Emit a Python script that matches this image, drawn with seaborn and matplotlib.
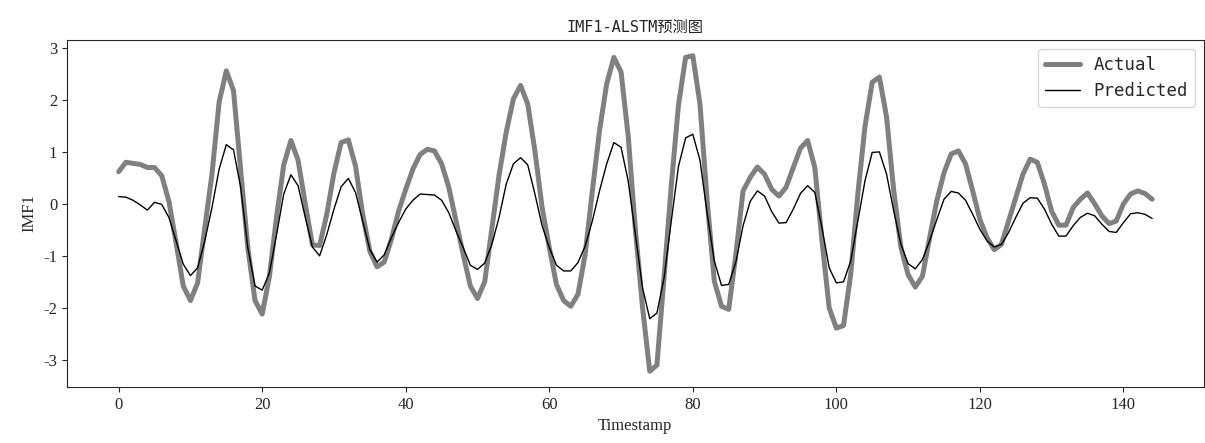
import numpy as np
import pandas as pd
import seaborn as sns
import matplotlib.pyplot as plt

# values (timestamps 0..144)
actual = [
	0.62, 0.80, 0.78, 0.76, 0.70, 0.70, 0.54, 0.05, -0.75, -1.58,
	-1.86, -1.52, -0.46, 0.57, 1.96, 2.56, 2.18, 0.65, -0.85, -1.86,
	-2.12, -1.40, -0.25, 0.75, 1.22, 0.84, 0.00, -0.79, -0.80, -0.20,
	0.60, 1.18, 1.23, 0.73, -0.20, -0.91, -1.21, -1.12, -0.68, -0.14,
	0.28, 0.67, 0.95, 1.05, 1.02, 0.77, 0.32, -0.33, -0.97, -1.58,
	-1.82, -1.50, -0.47, 0.55, 1.38, 2.02, 2.28, 1.92, 1.02, -0.07,
	-0.84, -1.55, -1.86, -1.97, -1.74, -0.97, 0.25, 1.41, 2.31, 2.82,
	2.54, 1.30, -0.50, -2.00, -3.22, -3.10, -1.40, 0.35, 1.90, 2.82,
	2.85, 1.92, 0.06, -1.49, -1.97, -2.03, -0.97, 0.25, 0.51, 0.71,
	0.57, 0.28, 0.15, 0.32, 0.70, 1.07, 1.22, 0.70, -0.71, -2.00,
	-2.39, -2.34, -1.36, 0.20, 1.50, 2.34, 2.44, 1.67, 0.25, -0.84,
	-1.36, -1.60, -1.39, -0.65, 0.06, 0.60, 0.96, 1.02, 0.77, 0.25,
	-0.30, -0.65, -0.88, -0.78, -0.33, 0.12, 0.57, 0.86, 0.80, 0.38,
	-0.14, -0.41, -0.41, -0.07, 0.09, 0.21, 0.00, -0.23, -0.38, -0.33,
	0.00, 0.19, 0.25, 0.20, 0.09,
]
predicted = [
	0.14, 0.13, 0.07, -0.02, -0.12, 0.03, -0.01, -0.26, -0.71, -1.16,
	-1.38, -1.23, -0.71, -0.07, 0.67, 1.14, 1.04, 0.32, -0.85, -1.58,
	-1.66, -1.33, -0.59, 0.19, 0.56, 0.35, -0.26, -0.83, -1.00, -0.59,
	-0.10, 0.33, 0.49, 0.22, -0.33, -0.88, -1.12, -0.98, -0.65, -0.36,
	-0.10, 0.07, 0.19, 0.18, 0.17, 0.07, -0.17, -0.52, -0.84, -1.18,
	-1.26, -1.14, -0.78, -0.26, 0.38, 0.77, 0.89, 0.75, 0.19, -0.42,
	-0.84, -1.18, -1.29, -1.29, -1.13, -0.81, -0.33, 0.25, 0.77, 1.18,
	1.09, 0.44, -0.59, -1.62, -2.21, -2.10, -1.42, -0.33, 0.72, 1.27,
	1.34, 0.84, -0.18, -1.10, -1.57, -1.55, -1.12, -0.42, 0.05, 0.25,
	0.15, -0.15, -0.37, -0.36, -0.10, 0.20, 0.35, 0.22, -0.46, -1.23,
	-1.52, -1.50, -1.10, -0.33, 0.45, 0.99, 1.00, 0.57, -0.14, -0.78,
	-1.15, -1.25, -1.07, -0.71, -0.30, 0.09, 0.24, 0.21, 0.07, -0.20,
	-0.49, -0.71, -0.83, -0.78, -0.55, -0.26, 0.01, 0.12, 0.11, -0.10,
	-0.39, -0.62, -0.62, -0.42, -0.26, -0.18, -0.23, -0.39, -0.53, -0.55,
	-0.36, -0.19, -0.17, -0.20, -0.28,
]
timestamps = np.arange(len(actual))

df = pd.DataFrame({"Timestamp": timestamps, "Actual": actual, "Predicted": predicted})

sns.set_style("ticks")
plt.rcParams["font.family"] = ["Liberation Serif", "DejaVu Serif"]
plt.rcParams["font.size"] = 12
plt.rcParams["axes.unicode_minus"] = False

fig, ax = plt.subplots(figsize=(12.05, 4.43), dpi=100)
sns.lineplot(data=df, x="Timestamp", y="Actual", color="#808080", linewidth=3.6, label="Actual", ax=ax)
sns.lineplot(data=df, x="Timestamp", y="Predicted", color="black", linewidth=1.0, label="Predicted", ax=ax)

ax.set_xticks(range(0, 141, 20))
ax.set_yticks(range(-3, 4))
ax.set_xlabel("Timestamp", fontsize=12)
ax.set_ylabel("IMF1", fontsize=12)
ax.tick_params(labelsize=12)
ax.set_title("IMF1-ALSTM预测图", family=["DejaVu Sans Mono", "Noto Sans CJK SC"], fontsize=11)
for s in ax.spines.values():
	s.set_visible(True)

ax.legend(loc="upper right", prop={"family": ["DejaVu Sans Mono", "Noto Sans CJK SC"], "size": 12.5})

plt.subplots_adjust(left=0.0556, right=0.999, top=0.9097, bottom=0.1264)
plt.savefig("out.png", dpi=100)
plt.close()
